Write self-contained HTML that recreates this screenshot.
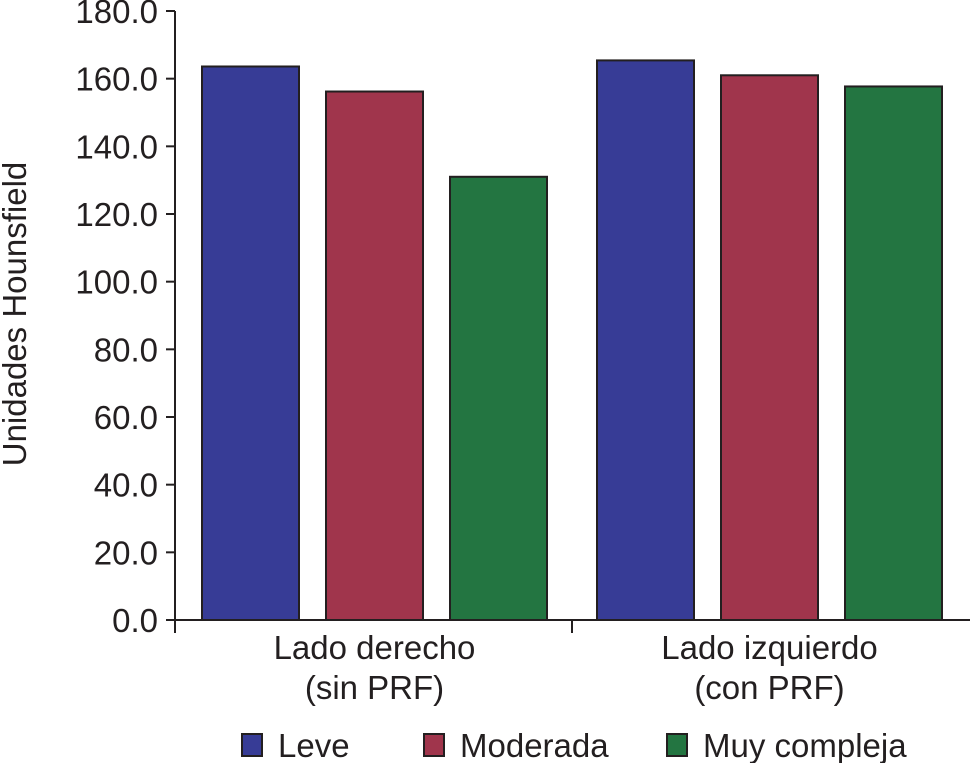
<!DOCTYPE html>
<html><head><meta charset="utf-8"><style>
html,body{margin:0;padding:0;background:#fff;}
svg text{font-family:"Liberation Sans",Arial,sans-serif;fill:#231f20;}
</style></head><body>
<svg id="chart" width="970" height="763" viewBox="0 0 970 763" xmlns="http://www.w3.org/2000/svg">
<g id="axes"></g><g id="bars"></g>
<text transform="translate(26,314) rotate(-90)" text-anchor="middle" font-size="33">Unidades Hounsfield</text>
<g>
<g><rect x="242" y="734" width="20" height="22" fill="#373c96" stroke="#231f20" stroke-width="2"/><text x="278" y="757" font-size="33">Leve</text></g>
<g><rect x="424" y="734" width="20" height="22" fill="#a0354c" stroke="#231f20" stroke-width="2"/><text x="460" y="757" font-size="33">Moderada</text></g>
<g><rect x="667" y="734" width="20" height="22" fill="#237541" stroke="#231f20" stroke-width="2"/><text x="703" y="757" font-size="33">Muy compleja</text></g>
</g>
</svg>
<script>
const categories=[["Lado derecho","(sin PRF)"],["Lado izquierdo","(con PRF)"]];
const seriesNames=["Leve","Moderada","Muy compleja"];
const leve=[163.6,165.4];
const moderada=[156.2,161.0];
const muyCompleja=[131.0,157.7];
const yTicks=[0,20,40,60,80,100,120,140,160,180];
const yTickLabels=["0.0","20.0","40.0","60.0","80.0","100.0","120.0","140.0","160.0","180.0"];
const colors=["#373c96","#a0354c","#237541"];
const NS="http://www.w3.org/2000/svg";
const x0=175,x1=970,yBase=620,yTop=11,ymax=180,groupStep=395;
function y(v){return yBase-(v/ymax)*(yBase-yTop);}
function barX(g,s){return x0+27+g*groupStep+s*124;}
function mk(tag,attrs,parent){const e=document.createElementNS(NS,tag);for(const k in attrs)e.setAttribute(k,attrs[k]);parent.appendChild(e);return e;}
const axes=document.getElementById('axes'),bars=document.getElementById('bars');
let l=mk('line',{x1:x0,y1:yTop,x2:x0,y2:633,stroke:'#231f20','stroke-width':2},axes);


l=mk('line',{x1:x0,y1:yBase,x2:x1,y2:yBase,stroke:'#231f20','stroke-width':2},axes);


yTicks.forEach((v,i)=>{
 const t=mk('line',{x1:166,y1:y(v),x2:x0,y2:y(v),stroke:'#231f20','stroke-width':2},axes);
 
 
 const tx=mk('text',{x:158,y:y(v)+12,'text-anchor':'end','font-size':'33'},axes);
 tx.textContent=yTickLabels[i];
 
 
});
categories.forEach((c,g)=>{
 if(g>0){const t=mk('line',{x1:572,y1:yBase,x2:572,y2:633,stroke:'#231f20','stroke-width':2},axes);
 
 }
 const cx=barX(g,1)+48.5;
 c.forEach((line,j)=>{const tx=mk('text',{x:cx,y:659+j*40,'text-anchor':'middle','font-size':'33'},axes);
 tx.textContent=line;
 
 });
 [leve,moderada,muyCompleja].forEach((arr,s)=>{
  const r=mk('rect',{x:barX(g,s),y:y(arr[g]),width:97,height:yBase-y(arr[g]),fill:colors[s],stroke:'#231f20','stroke-width':2},bars);
  
  
 });
});
</script>
</body></html>
